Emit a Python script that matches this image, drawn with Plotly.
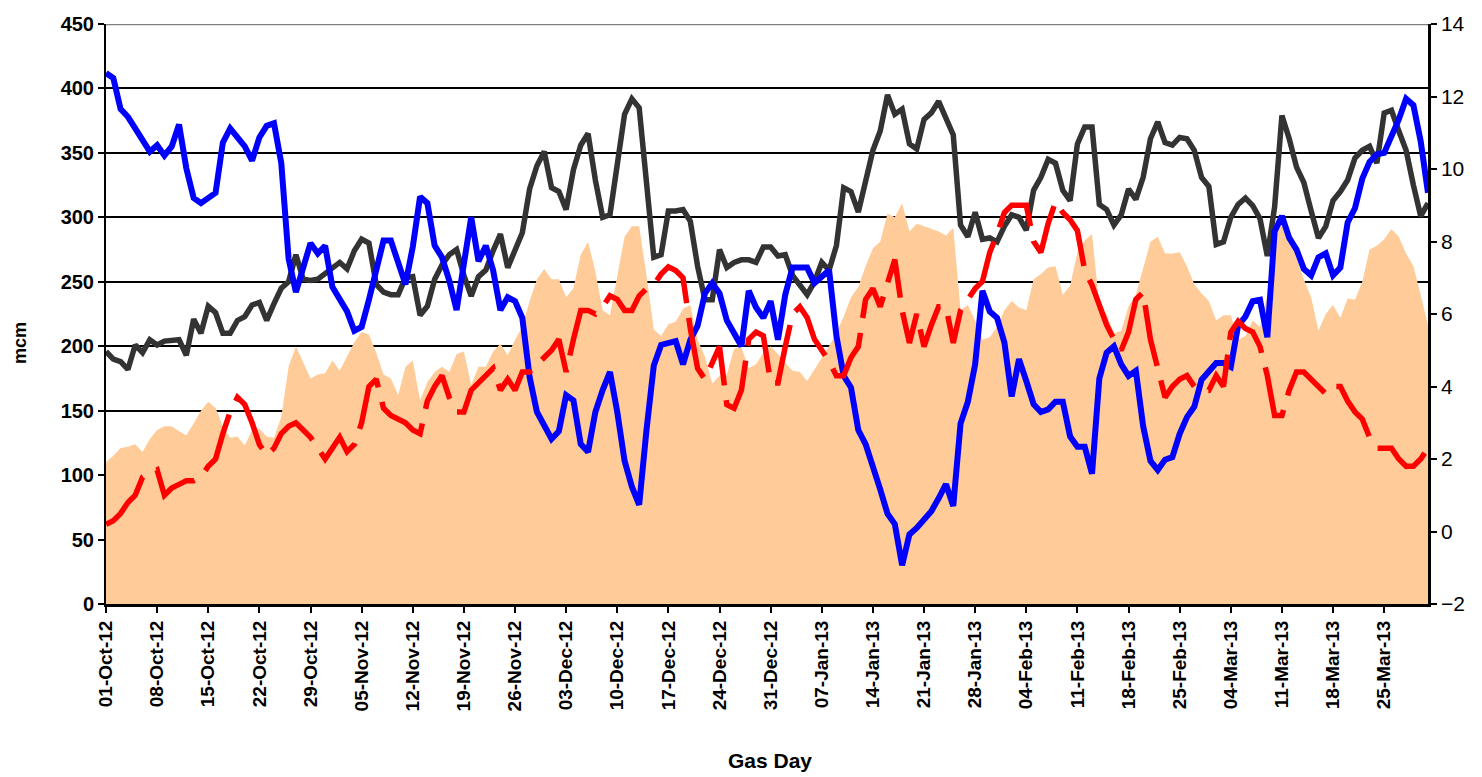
import pandas as pd
import plotly.graph_objects as go

start_date = "2012-10-01"

# Series A (blue line, mcm)
blue_mcm = [412,408,384,378,369,360,351,356,348,355,
            372,338,315,311,315,319,358,369,362,355,
            344,362,371,373,342,268,242,262,280,272,
            278,246,237,227,212,215,236,260,282,282,
            265,248,277,316,311,278,269,251,228,265,
            300,266,278,259,228,238,235,222,176,149,
            138,128,134,162,158,124,118,149,166,180,
            149,111,91,77,135,185,201,203,204,186,
            205,216,241,249,241,220,209,200,243,230,
            222,235,205,240,261,261,261,249,254,259,
            208,177,168,135,124,108,89,70,62,30,
            54,59,66,72,82,93,76,140,157,186,
            243,227,222,203,161,190,173,155,149,151,
            157,157,130,122,122,101,175,195,200,186,
            177,181,138,111,104,112,114,132,145,153,
            174,181,187,187,184,216,223,235,236,207,
            289,301,284,275,260,255,269,272,255,261,
            296,307,330,343,349,350,362,376,392,387,
            359,319]

# Series B (dark grey line, mcm)
black_mcm = [196,190,188,182,201,195,205,201,204,205,
             205,193,221,210,231,226,210,210,220,223,
             232,234,220,233,245,250,271,252,251,252,
             256,260,265,260,274,283,280,248,242,240,
             240,253,254,224,231,252,263,271,275,255,
             239,254,259,274,287,261,274,288,322,340,
             351,323,320,306,337,356,365,329,300,302,
             341,380,392,385,327,269,271,305,305,306,
             297,262,236,236,275,261,265,267,267,265,
             277,277,270,271,255,247,240,250,265,259,
             278,323,320,304,326,352,367,395,380,384,
             357,353,376,381,390,376,364,294,285,304,
             283,284,281,293,302,300,290,321,331,345,
             342,321,313,357,370,370,310,306,294,302,
             322,314,331,361,374,358,356,362,361,352,
             331,324,279,281,300,310,315,309,299,270,
             308,379,361,339,327,305,284,293,313,320,
             329,346,352,355,342,381,383,367,352,325,
             301,311]

# Series C (filled area, mcm)
area_mcm = [110,115,121,122,124,118,128,135,138,138,
            134,131,140,150,157,152,138,129,130,123,
            135,136,130,129,145,184,200,188,175,178,
            179,189,181,192,203,211,209,195,178,175,
            162,184,189,158,172,180,184,180,194,196,
            170,184,184,196,202,193,205,215,235,252,
            260,252,252,238,245,271,281,258,228,224,
            255,285,293,293,255,213,208,217,219,229,
            232,205,192,171,177,178,198,199,183,186,
            195,200,194,187,181,180,173,182,190,200,
            210,223,238,246,262,276,281,303,300,311,
            289,295,293,291,289,286,292,228,232,220,
            205,207,215,228,235,230,228,252,256,261,
            262,240,247,273,282,287,232,225,210,212,
            231,240,260,281,285,272,272,273,262,248,
            241,235,220,224,224,205,208,220,215,240,
            290,300,290,268,252,238,212,225,232,222,
            237,236,250,275,278,283,291,285,272,262,
            240,216]

# Series D (red dashed line, right axis)
red_right = [0.2,0.3,0.5,0.8,1.0,1.5,1.6,1.7,1.0,1.2,
             1.3,1.4,1.4,1.5,1.8,2.0,2.7,3.3,3.7,3.5,
             3.0,2.4,2.1,2.3,2.7,2.9,3.0,2.8,2.6,2.3,
             2.0,2.3,2.6,2.2,2.4,3.0,4.0,4.2,3.4,3.2,
             3.1,3.0,2.8,2.7,3.6,4.0,4.3,3.7,3.3,3.3,
             3.9,4.1,4.3,4.5,3.9,4.2,3.9,4.4,4.4,4.6,
             4.8,5.0,5.3,4.4,5.3,6.1,6.1,6.0,6.2,6.5,
             6.4,6.1,6.1,6.5,6.7,6.8,7.1,7.3,7.2,7.0,
             5.6,4.5,4.2,4.7,5.1,3.5,3.4,3.9,5.3,5.5,
             5.4,4.1,4.1,5.1,6.0,6.2,5.9,5.3,5.0,4.7,
             4.3,4.3,4.8,5.1,6.4,6.7,6.2,6.9,7.5,6.1,
             5.2,6.0,5.1,5.7,6.2,6.2,5.2,6.1,6.4,6.7,
             6.9,7.7,8.2,8.8,9.0,9.0,9.0,8.0,7.7,8.5,
             9.1,8.8,8.6,8.3,7.2,6.8,6.2,5.7,5.3,5.0,
             5.5,6.4,6.6,5.3,4.5,3.7,4.0,4.2,4.3,4.0,
             3.9,3.9,4.3,4.0,5.5,5.8,5.6,5.5,5.1,4.3,
             3.2,3.2,3.9,4.4,4.4,4.2,4.0,3.8,4.0,4.0,
             3.6,3.3,3.1,2.6,2.3,2.3,2.3,2.0,1.8,1.8,
             2.0,2.3]

dates = pd.date_range(start_date, periods=len(blue_mcm), freq="D")

FONT = "Liberation Sans, Arial, sans-serif"

fig = go.Figure()
fig.add_trace(go.Scatter(x=dates, y=area_mcm, mode="lines", fill="tozeroy",
                         fillcolor="#FFCC99", line=dict(width=0, color="#FFCC99"),
                         hoverinfo="skip"))
fig.add_trace(go.Scatter(x=dates, y=black_mcm, mode="lines",
                         line=dict(color="#333333", width=5.5)))
fig.add_trace(go.Scatter(x=dates, y=blue_mcm, mode="lines",
                         line=dict(color="#0000FF", width=6)))
fig.add_trace(go.Scatter(x=dates, y=red_right, mode="lines", yaxis="y2",
                         line=dict(color="#FF0000", width=5.5, dash="62px,15px")))

fig.update_layout(
    width=1482, height=777,
    margin=dict(l=106, r=54, t=17, b=173),
    plot_bgcolor="white", paper_bgcolor="white",
    showlegend=False,
    font=dict(family=FONT, color="black"),
    xaxis=dict(
        type="date",
        range=[dates[0], dates[-1]],
        tick0=start_date, dtick=7 * 86400000,
        tickformat="%d-%b-%y", tickangle=-90,
        ticks="outside", ticklen=6, tickwidth=2, tickcolor="black",
        showline=True, linewidth=3, linecolor="black",
        showgrid=False, zeroline=False,
        tickfont=dict(size=19, family=FONT, weight="bold", color="black"),
    ),
    yaxis=dict(
        range=[0, 450], tick0=0, dtick=50,
        ticks="outside", ticklen=6, tickwidth=2, tickcolor="black",
        showline=True, linewidth=2, linecolor="black",
        showgrid=True, gridcolor="black", gridwidth=1.5,
        zeroline=False,
        tickfont=dict(size=20, family=FONT, weight="bold", color="black"),
    ),
    yaxis2=dict(
        range=[-2, 14], tick0=-2, dtick=2,
        overlaying="y", side="right",
        ticks="outside", ticklen=6, tickwidth=2, tickcolor="black",
        showline=True, linewidth=2.5, linecolor="black",
        showgrid=False, zeroline=False,
        tickfont=dict(size=21, family=FONT, color="black"),
    ),
    shapes=[dict(type="line", xref="paper", x0=0, x1=1, yref="y", y0=450, y1=450,
                 line=dict(color="#808080", width=2.5), layer="above")],
    annotations=[
        dict(text="mcm", xref="paper", yref="paper", x=-0.065, y=0.45,
             textangle=-90, showarrow=False, xanchor="center", yanchor="middle",
             font=dict(size=18, family=FONT, weight="bold", color="black")),
        dict(text="Gas Day", xref="paper", yref="paper", x=0.502, y=-0.27,
             showarrow=False, xanchor="center", yanchor="middle",
             font=dict(size=21, family=FONT, weight="bold", color="black")),
    ],
)

fig.write_html("out.html", config={"displayModeBar": False},
               post_script="document.body.style.margin='0';document.body.style.overflow='hidden';")
